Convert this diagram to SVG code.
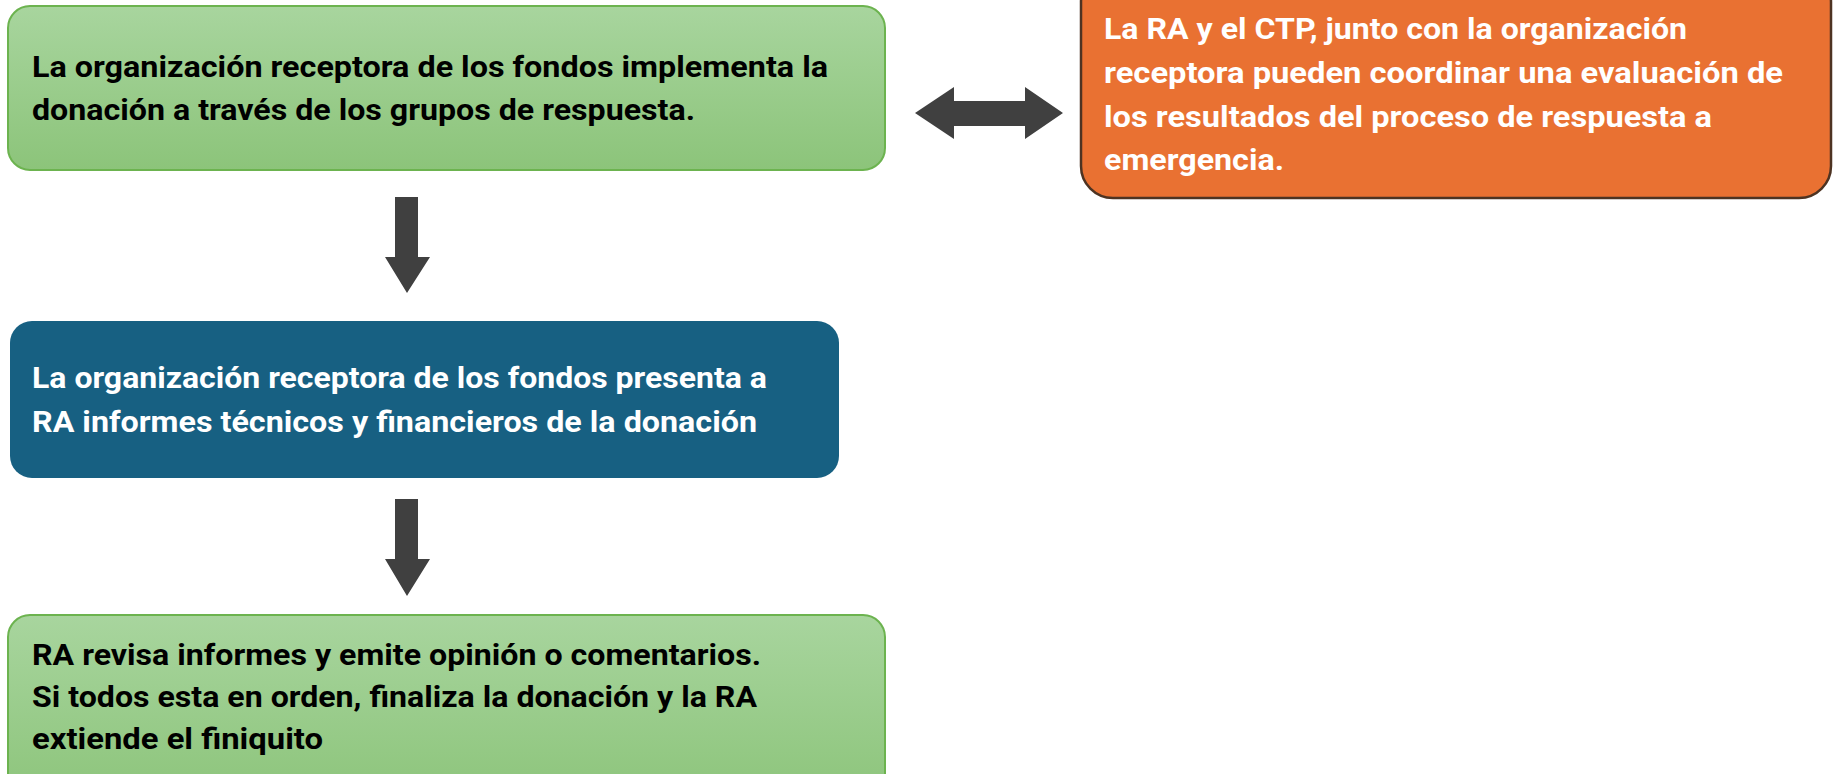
<svg xmlns="http://www.w3.org/2000/svg" width="1834" height="774" viewBox="0 0 1834 774">
<style>
.t{font-family:Roboto,"Liberation Sans",Arial,sans-serif;font-weight:bold;font-size:30px}
.dk{fill:#000}
.wh{fill:#fff}
.arrow{fill:#404040}
</style>
<defs>
<linearGradient id="gg" x1="0" y1="0" x2="0" y2="1">
<stop offset="0" stop-color="#a8d59e"/>
<stop offset="1" stop-color="#8cc47a"/>
</linearGradient>
</defs>
<rect width="1834" height="774" fill="#fff"/>
<g id="connectors">
<path class="arrow" d="M915,113 L954,87 L954,101 L1025,101 L1025,87 L1063,113 L1025,139 L1025,126 L954,126 L954,139 Z"/>
<path class="arrow" d="M395,197 L418,197 L418,257 L430,257 L407,293 L385,257 L395,257 Z"/>
<path class="arrow" d="M395,499 L418,499 L418,559 L430,559 L407,596 L385,559 L395,559 Z"/>
</g>
<g id="n1">
<rect x="8" y="6" width="877" height="164" rx="22" fill="url(#gg)" stroke="#6cb34f" stroke-width="2"/>
<text class="t dk" x="32" y="77" textLength="796" lengthAdjust="spacingAndGlyphs">La organización receptora de los fondos implementa la</text>
<text class="t dk" x="32" y="120" textLength="663" lengthAdjust="spacingAndGlyphs">donación a través de los grupos de respuesta.</text>
</g>
<g id="n2">
<rect x="1081" y="-30" width="750" height="228" rx="32" fill="#e97132" stroke="#4d3322" stroke-width="2.5"/>
<text class="t wh" x="1104" y="39" textLength="583" lengthAdjust="spacingAndGlyphs">La RA y el CTP, junto con la organización</text>
<text class="t wh" x="1104" y="83" textLength="679" lengthAdjust="spacingAndGlyphs">receptora pueden coordinar una evaluación de</text>
<text class="t wh" x="1104" y="127" textLength="608" lengthAdjust="spacingAndGlyphs">los resultados del proceso de respuesta a</text>
<text class="t wh" x="1104" y="170" textLength="180" lengthAdjust="spacingAndGlyphs">emergencia.</text>
</g>
<g id="n3">
<rect x="10" y="321" width="829" height="157" rx="22" fill="#176082"/>
<text class="t wh" x="32" y="388" textLength="735" lengthAdjust="spacingAndGlyphs">La organización receptora de los fondos presenta a</text>
<text class="t wh" x="32" y="432" textLength="725" lengthAdjust="spacingAndGlyphs">RA informes técnicos y financieros de la donación</text>
</g>
<g id="n4">
<rect x="8" y="615" width="877" height="190" rx="22" fill="url(#gg)" stroke="#6cb34f" stroke-width="2"/>
<text class="t dk" x="32" y="665" textLength="729" lengthAdjust="spacingAndGlyphs">RA revisa informes y emite opinión o comentarios.</text>
<text class="t dk" x="32" y="707" textLength="725" lengthAdjust="spacingAndGlyphs">Si todos esta en orden, finaliza la donación y la RA</text>
<text class="t dk" x="32" y="749" textLength="291" lengthAdjust="spacingAndGlyphs">extiende el finiquito</text>
</g>
</svg>
